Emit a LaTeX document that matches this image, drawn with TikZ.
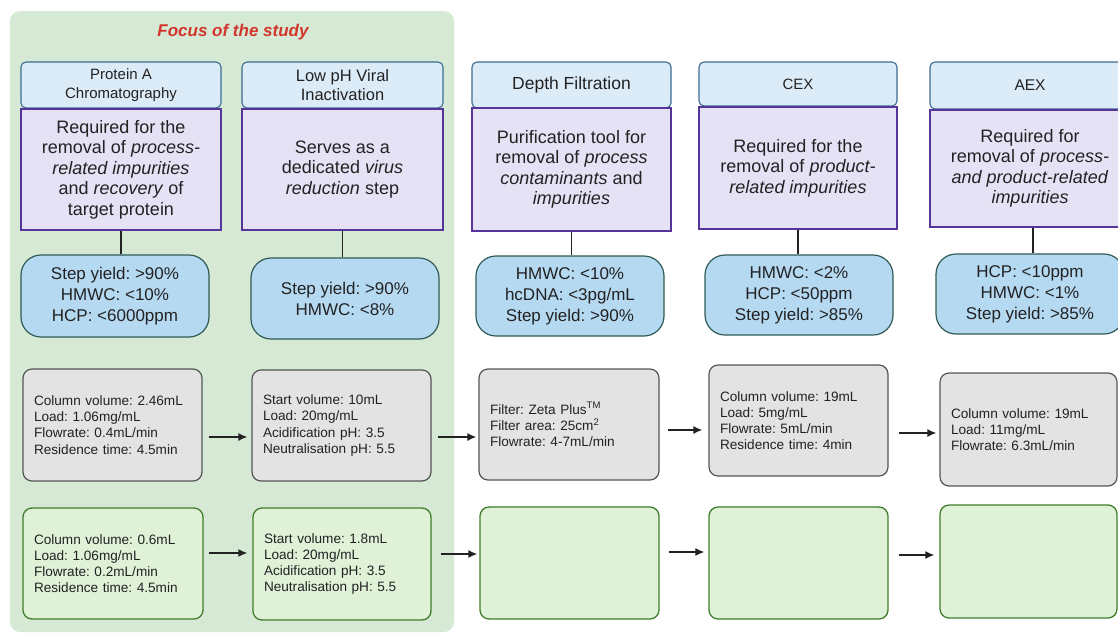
\documentclass[tikz,border=0pt]{standalone}
\usepackage{fontspec}
\setmainfont{Liberation Sans}
\usetikzlibrary{arrows.meta,calc}
\definecolor{bggreen}{HTML}{D6E9D4}
\definecolor{hdrfill}{HTML}{DCEBF8}
\definecolor{hdrline}{HTML}{3C6B90}
\definecolor{purpfill}{HTML}{E5E2F6}
\definecolor{purpline}{HTML}{56349A}
\definecolor{statfill}{HTML}{B6D9F2}
\definecolor{statline}{HTML}{2F5A55}
\definecolor{parfill}{HTML}{E3E3E3}
\definecolor{parline}{HTML}{555555}
\definecolor{runfill}{HTML}{DFF2D8}
\definecolor{runline}{HTML}{3F7D2A}
\definecolor{titlered}{HTML}{D2352B}
\definecolor{ink}{HTML}{222222}
\begin{document}
\frenchspacing
\begin{tikzpicture}[x=1pt,y=-1pt,
  every node/.style={text=ink},
  hdr/.style={draw=hdrline, fill=hdrfill, line width=1.1pt, rounded corners=5pt,
    minimum width=200pt, minimum height=46pt, align=center, inner sep=0pt},
  purp/.style={draw=purpline, fill=purpfill, line width=1.4pt,
    minimum width=200pt, minimum height=121pt, align=center, inner sep=0pt,
    font=\fontsize{18}{20.5}\selectfont},
  stat/.style={draw=statline, fill=statfill, line width=1.2pt, rounded corners=20pt,
    minimum width=188pt, minimum height=81pt, align=center, inner sep=0pt,
    font=\fontsize{17}{21}\selectfont},
  par/.style={draw=parline, fill=parfill, line width=1.2pt, rounded corners=9pt,
    align=left, inner xsep=11pt, inner ysep=0pt,
    font=\fontsize{13.6}{16.2}\selectfont},
  run/.style={draw=runline, fill=runfill, line width=1.3pt, rounded corners=9pt,
    align=left, inner xsep=11pt, inner ysep=0pt,
    font=\fontsize{13.6}{16.2}\selectfont},
  conn/.style={draw=ink, line width=1.5pt},
  arr/.style={draw=ink, line width=1.4pt, -{Latex[length=9pt,width=8pt]}}
]
\useasboundingbox (0,0) rectangle (1118,635);
\clip (0,0) rectangle (1118,635);

% focus background
\fill[bggreen, rounded corners=10pt] (10,11) rectangle (454,632);
\node[font=\fontsize{17}{20}\selectfont\bfseries\itshape, text=titlered] (title) at (233,32) {Focus of the study};

% headers
\node[hdr, font=\fontsize{15}{18.3}\selectfont] (h1) at (121,85) {Protein A\\Chromatography};
\node[hdr, minimum width=201pt, font=\fontsize{16.5}{18.5}\selectfont] (h2) at (342.5,85) {Low pH Viral\\Inactivation};
\node[hdr, minimum width=199pt, font=\fontsize{17.5}{20}\selectfont] (h3) at (571.5,85) {Depth Filtration};
\node[hdr, minimum width=198pt, minimum height=44pt, font=\fontsize{15}{18}\selectfont] (h4) at (798,84) {CEX};
\node[hdr, minimum width=200pt, minimum height=47pt, font=\fontsize{15.5}{18}\selectfont] (h5) at (1030,85.5) {AEX};

% purpose boxes
\node[purp] (p1) at (121,169.5) {Required for the\\removal of \textit{process-}\\\textit{related impurities}\\and \textit{recovery} of\\target protein};
\node[purp, minimum width=201pt] (p2) at (342.5,169.5) {Serves as a\\dedicated \textit{virus}\\\textit{reduction} step};
\node[purp, minimum width=199pt, minimum height=123pt] (p3) at (571.5,169.5) {Purification tool for\\removal of \textit{process}\\\textit{contaminants} and\\\textit{impurities}};
\node[purp, minimum width=198pt, minimum height=122pt] (p4) at (798,168) {Required for the\\removal of \textit{product-}\\\textit{related impurities}};
\node[purp, minimum width=200pt, minimum height=117pt] (p5) at (1030,168.5) {Required for\\removal of \textit{process-}\\\textit{and product-related}\\\textit{impurities}};

% specification boxes
\node[stat, minimum height=82pt] (s1) at (115,296) {Step yield: >90\%\\HMWC: <10\%\\HCP: <6000ppm};
\node[stat] (s2) at (345,298.5) {Step yield: >90\%\\HMWC: <8\%};
\node[stat, minimum height=80pt] (s3) at (570,296) {HMWC: <10\%\\hcDNA: <3pg/mL\\Step yield: >90\%};
\node[stat, minimum height=80pt] (s4) at (799,295) {HMWC: <2\%\\HCP: <50ppm\\Step yield: >85\%};
\node[stat, minimum height=80pt] (s5) at (1030,294) {HCP: <10ppm\\HMWC: <1\%\\Step yield: >85\%};

% connectors purpose -> specification
\draw[conn] (p1.south) -- (p1.south |- s1.north);
\draw[conn] (p2.south) -- (p2.south |- s2.north);
\draw[conn] (p3.south) -- (p3.south |- s3.north);
\draw[conn] (p4.south) -- (p4.south |- s4.north);
\draw[conn] ([xshift=3pt]p5.south) -- ([xshift=3pt]p5.south |- s5.north);

% parameter boxes (grey)
\node[par, text width=157pt, minimum height=112pt] (g1) at (112.5,425) {Column volume: 2.46mL\\Load: 1.06mg/mL\\Flowrate: 0.4mL/min\\Residence time: 4.5min};
\node[par, text width=157pt, minimum height=111pt] (g2) at (341.5,425.5) {Start volume: 10mL\\Load: 20mg/mL\\Acidification pH: 3.5\\Neutralisation pH: 5.5};
\node[par, text width=158pt, minimum height=111pt] (g3) at (569,424.5) {Filter: Zeta Plus\textsuperscript{TM}\\Filter area: 25cm\textsuperscript{2}\\Flowrate: 4-7mL/min};
\node[par, text width=157pt, minimum height=111pt] (g4) at (798.5,420.5) {Column volume: 19mL\\Load: 5mg/mL\\Flowrate: 5mL/min\\Residence time: 4min};
\node[par, text width=155pt, minimum height=113pt] (g5) at (1028.5,429.5) {Column volume: 19mL\\Load: 11mg/mL\\Flowrate: 6.3mL/min};

% run boxes (green)
\node[run, text width=158pt, minimum height=111pt] (r1) at (113,563.5) {Column volume: 0.6mL\\Load: 1.06mg/mL\\Flowrate: 0.2mL/min\\Residence time: 4.5min};
\node[run, text width=156pt, minimum height=112pt] (r2) at (342,564) {Start volume: 1.8mL\\Load: 20mg/mL\\Acidification pH: 3.5\\Neutralisation pH: 5.5};
\node[run, text width=157pt, minimum height=112pt] (r3) at (569.5,563) {};
\node[run, text width=157pt, minimum height=112pt] (r4) at (798.5,563) {};
\node[run, text width=155pt, minimum height=113pt] (r5) at (1028.5,561.5) {};

% arrows, grey row
\coordinate (ga1) at ([yshift=-12pt]g1.east);
\coordinate (ga2) at ([yshift=-11.5pt]g2.east);
\coordinate (ga3) at ([yshift=-5.5pt]g3.east);
\coordinate (ga4) at ([yshift=-12.5pt]g4.east);
\draw[arr, shorten <=6pt, shorten >=4pt] (ga1) -- (ga1 -| g2.west);
\draw[arr, shorten <=6pt, shorten >=2pt] (ga2) -- (ga2 -| g3.west);
\draw[arr, shorten <=8pt, shorten >=6pt] (ga3) -- (ga3 -| g4.west);
\draw[arr, shorten <=10pt, shorten >=3pt] (ga4) -- (ga4 -| g5.west);

% arrows, green row
\coordinate (ra1) at ([yshift=10.5pt]r1.east);
\coordinate (ra2) at ([yshift=10pt]r2.east);
\coordinate (ra3) at ([yshift=11pt]r3.east);
\coordinate (ra4) at ([yshift=8pt]r4.east);
\draw[arr, shorten <=5pt, shorten >=5pt] (ra1) -- (ra1 -| r2.west);
\draw[arr, shorten <=9pt, shorten >=2pt] (ra2) -- (ra2 -| r3.west);
\draw[arr, shorten <=9pt, shorten >=4pt] (ra3) -- (ra3 -| r4.west);
\draw[arr, shorten <=10pt, shorten >=5pt] (ra4) -- (ra4 -| r5.west);
\end{tikzpicture}
\end{document}
